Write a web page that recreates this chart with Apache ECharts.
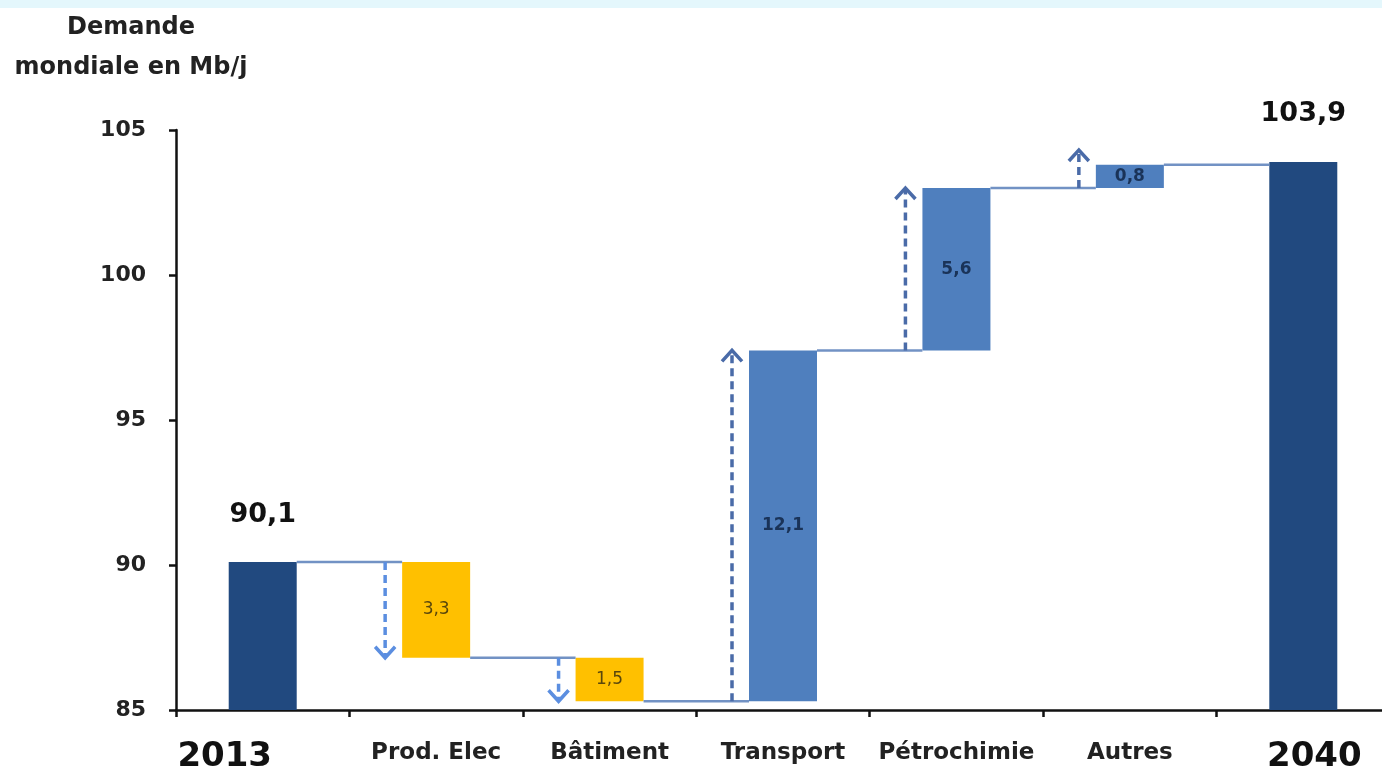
<!DOCTYPE html>
<html>
<head>
<meta charset="utf-8">
<title>Demande mondiale de pétrole 2013-2040</title>
<script src="https://cdn.jsdelivr.net/npm/echarts@6/dist/echarts.min.js"></script>
<style>
  html, body { margin: 0; padding: 0; background: #ffffff; overflow: hidden; }
  /* the plot runs slightly past the right edge of the window */
  #chart { width: 1400px; height: 781px; }
</style>
</head>
<body>
<div id="chart"></div>
<script>
// Waterfall: world oil demand 2013 -> 2040 by sector (Mb/j)
const categories = ['2013', 'Prod. Elec', 'Bâtiment', 'Transport', 'Pétrochimie', 'Autres', '2040'];
const startValue = 90.1;
const endValue = 103.9;
const changes = [null, -3.3, -1.5, 12.1, 5.6, 0.8, null];
const yTicks = [85, 90, 95, 100, 105];
const axisTitle = ['Demande', 'mondiale en Mb/j'];

const FONT = 'DejaVu Sans';
const BAR_W = 68;
const r1 = v => Math.round(v * 10) / 10;
const fmt = v => Math.abs(v).toFixed(1).replace('.', ',');

// running levels for the stacked (invisible base + visible segment) bars
const base = [], totals = [], decreases = [], increases = [];
const connectors = []; // [categoryIndex, level after that bar]
const arrows = [];     // [categoryIndex, level before, level after]
let level = startValue;
categories.forEach((c, i) => {
  if (i === 0) {
    base.push(0); totals.push(startValue); decreases.push('-'); increases.push('-');
    connectors.push([i, level]);
  } else if (i === categories.length - 1) {
    base.push(0); totals.push(endValue); decreases.push('-'); increases.push('-');
  } else {
    const before = level;
    const after = r1(level + changes[i]);
    base.push(Math.min(before, after));
    totals.push('-');
    decreases.push(changes[i] < 0 ? -changes[i] : '-');
    increases.push(changes[i] > 0 ? changes[i] : '-');
    arrows.push([i, before, after]);
    level = after;
    connectors.push([i, level]);
  }
});

const chart = echarts.init(document.getElementById('chart'));

const option = {
  backgroundColor: '#ffffff',
  animation: false,
  graphic: [
    { type: 'rect', x: 0, y: 0, shape: { width: 1400, height: 8 }, style: { fill: '#e4f7fc' }, z: -1 },
    {
      type: 'text', x: 131, y: 8, z: 10,
      style: {
        text: axisTitle.join('\n'),
        font: 'bold 24px "' + FONT + '"',
        fill: '#222222', align: 'center', lineHeight: 40
      }
    }
  ],
  grid: { left: 176, top: 130, height: 580, width: 1214, containLabel: false },
  xAxis: {
    type: 'category',
    data: categories,
    axisLine: { show: true, lineStyle: { color: '#111111', width: 2.5 } },
    axisTick: { show: true, alignWithLabel: false, length: 7, lineStyle: { color: '#111111', width: 2.5 } },
    axisLabel: {
      interval: 0,
      margin: 26,
      formatter: (v, i) => {
        if (i === 0) return '{first|' + v + '}';
        if (i === categories.length - 1) return '{last|' + v + '}';
        return '{cat|' + v + '}';
      },
      rich: {
        cat: { fontFamily: FONT, fontWeight: 'bold', fontSize: 23, color: '#222222', padding: [6, 0, 0, 0] },
        first: { fontFamily: FONT, fontWeight: 'bold', fontSize: 34, color: '#111111', padding: [4, 76, 0, 0] },
        last: { fontFamily: FONT, fontWeight: 'bold', fontSize: 34, color: '#111111', padding: [4, 0, 0, 22] }
      }
    },
    splitLine: { show: false }
  },
  yAxis: {
    type: 'value',
    min: yTicks[0],
    max: yTicks[yTicks.length - 1],
    interval: yTicks[1] - yTicks[0],
    axisLine: { show: true, lineStyle: { color: '#111111', width: 2.5 } },
    axisTick: { show: true, length: 7, lineStyle: { color: '#111111', width: 2.5 } },
    axisLabel: { margin: 30, fontFamily: FONT, fontWeight: 'bold', fontSize: 22, color: '#222222' },
    splitLine: { show: false }
  },
  series: [
    {
      name: 'base', type: 'bar', stack: 'w', barWidth: BAR_W, silent: true,
      itemStyle: { color: 'transparent' },
      data: base
    },
    {
      name: 'totals', type: 'bar', stack: 'w', barWidth: BAR_W,
      itemStyle: { color: '#21497f' },
      label: {
        show: true, position: 'top', distance: 34,
        fontFamily: FONT, fontWeight: 'bold', fontSize: 27, color: '#111111',
        formatter: p => fmt(p.value)
      },
      data: totals
    },
    {
      name: 'decreases', type: 'bar', stack: 'w', barWidth: BAR_W,
      itemStyle: { color: '#ffc000' },
      label: {
        show: true, position: 'inside',
        fontFamily: FONT, fontSize: 17, color: '#5a470c',
        formatter: p => fmt(p.value)
      },
      data: decreases
    },
    {
      name: 'increases', type: 'bar', stack: 'w', barWidth: BAR_W,
      itemStyle: { color: '#4f7fbe' },
      label: {
        show: true, position: 'inside',
        fontFamily: FONT, fontWeight: 'bold', fontSize: 17, color: '#1a3358',
        formatter: p => fmt(p.value)
      },
      data: increases
    },
    {
      // horizontal connectors from each bar top to the next bar
      name: 'connectors', type: 'custom', silent: true, z: 3,
      data: connectors,
      renderItem: (params, api) => {
        const p = api.coord([api.value(0), api.value(1)]);
        const step = api.size([1, 0])[0];
        return {
          type: 'line',
          shape: { x1: p[0] + BAR_W / 2, y1: p[1], x2: p[0] + step - BAR_W / 2, y2: p[1] },
          style: { stroke: '#7292c4', lineWidth: 2.5 }
        };
      }
    },
    {
      // dashed direction arrows beside each change bar: light blue going down, darker going up
      name: 'arrows', type: 'custom', silent: true, z: 4,
      data: arrows,
      renderItem: (params, api) => {
        const p0 = api.coord([api.value(0), api.value(1)]);
        const p1 = api.coord([api.value(0), api.value(2)]);
        const x = p0[0] - BAR_W / 2 - 17;
        const dir = p1[1] < p0[1] ? -1 : 1; // -1 = up
        const color = dir < 0 ? '#4a6ba8' : '#5b8ee0';
        let tipY = p1[1];
        if (Math.abs(tipY - p0[1]) < 38) tipY = p0[1] + dir * 38;
        const head = 11, half = 10;
        return {
          type: 'group',
          children: [
            {
              type: 'line',
              shape: { x1: x, y1: p0[1], x2: x, y2: tipY - dir * 2 },
              style: { stroke: color, lineWidth: 3.5, lineDash: [8, 5] }
            },
            {
              type: 'polyline',
              shape: { points: [[x - half, tipY - dir * head], [x, tipY], [x + half, tipY - dir * head]] },
              style: { stroke: color, lineWidth: 3.5, fill: null }
            }
          ]
        };
      }
    }
  ]
};

chart.setOption(option);
</script>
</body>
</html>
